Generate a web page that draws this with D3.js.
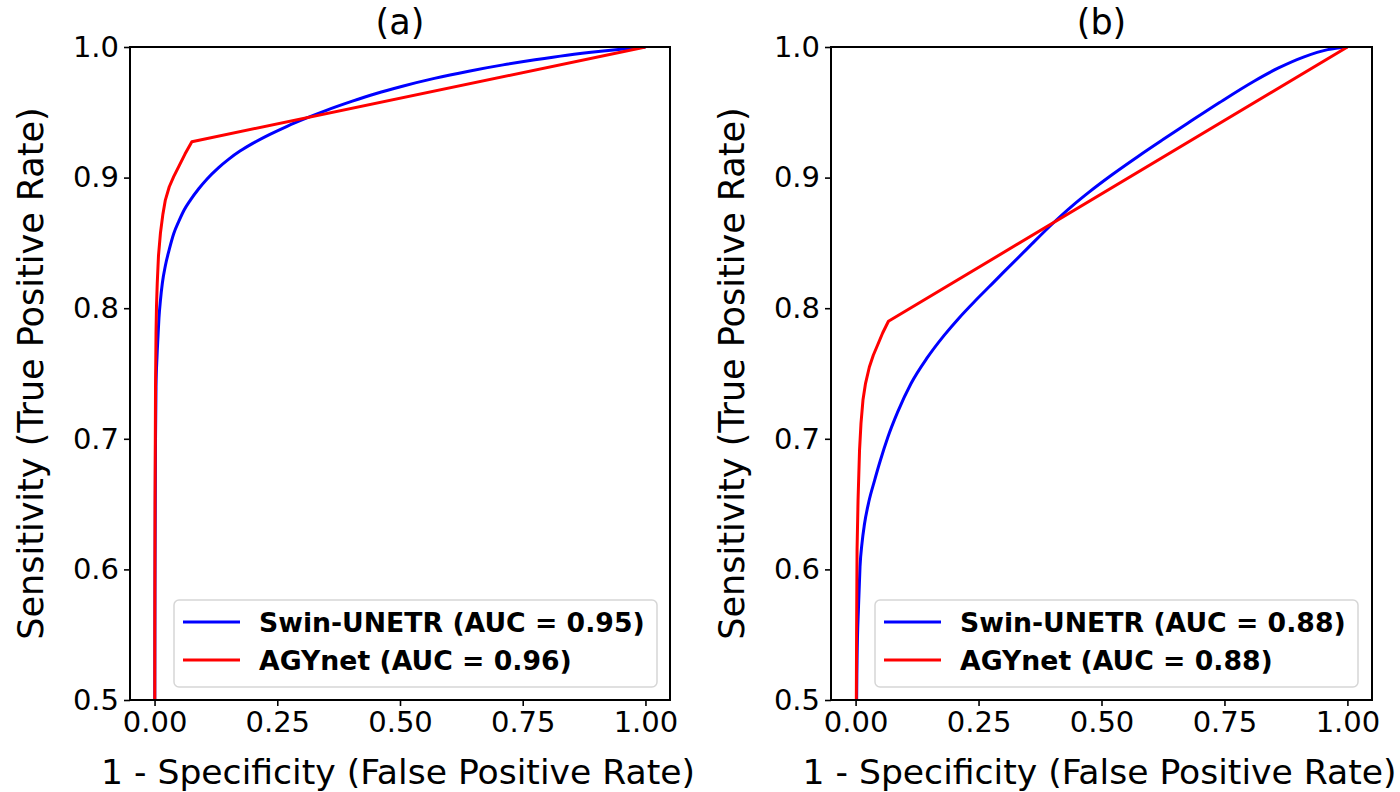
<!DOCTYPE html>
<html>
<head>
<meta charset="utf-8">
<script src="https://cdn.jsdelivr.net/npm/d3@7"></script>
<style>
  body { margin: 0; background: #fff; }
  text { font-family: "DejaVu Sans", sans-serif; fill: #000; }
</style>
</head>
<body>
<svg id="chart" width="1400" height="792"></svg>
<script>
// panel (a)
const fprSwinA = [0, 0.0005, 0.001, 0.002, 0.003, 0.005, 0.007, 0.009, 0.012, 0.016, 0.022, 0.03, 0.039, 0.05, 0.06, 0.073, 0.09, 0.107, 0.13, 0.15, 0.174, 0.2, 0.235, 0.27, 0.309, 0.35, 0.403, 0.45, 0.505, 0.57, 0.64, 0.71, 0.775, 0.84, 0.909, 0.96, 1.0];
const tprSwinA = [0, 0.5, 0.6, 0.7, 0.74, 0.7625, 0.778, 0.7925, 0.806, 0.8195, 0.8325, 0.845, 0.857, 0.867, 0.875, 0.8828, 0.8915, 0.899, 0.9075, 0.9138, 0.9203, 0.9262, 0.9331, 0.9393, 0.9455, 0.9515, 0.9585, 0.9642, 0.970, 0.976, 0.9815, 0.9863, 0.9902, 0.9937, 0.9967, 0.9986, 1.0];
const fprAgyA = [0, 0.0005, 0.001, 0.002, 0.003, 0.004, 0.0055, 0.008, 0.012, 0.017, 0.022, 0.03, 0.039, 0.05, 0.062, 0.076, 1.0];
const tprAgyA = [0, 0.55, 0.65, 0.74, 0.781, 0.802, 0.819, 0.84, 0.8575, 0.872, 0.8828, 0.893, 0.9007, 0.909, 0.918, 0.9275, 1.0];

// panel (b)
const fprSwinB = [0, 0.001, 0.003, 0.006, 0.009, 0.013, 0.018, 0.027, 0.0385, 0.05, 0.0654, 0.085, 0.113, 0.145, 0.18, 0.21, 0.241, 0.271, 0.3, 0.35, 0.403, 0.44, 0.474, 0.52, 0.575, 0.625, 0.676, 0.74, 0.811, 0.86, 0.912, 0.96, 1.0];
const tprSwinB = [0, 0.45, 0.53, 0.572, 0.602, 0.62, 0.6345, 0.652, 0.668, 0.683, 0.701, 0.72, 0.7425, 0.7617, 0.7792, 0.7924, 0.8048, 0.8162, 0.8272, 0.846, 0.8656, 0.8782, 0.8887, 0.9018, 0.9164, 0.9291, 0.9418, 0.9575, 0.974, 0.984, 0.9925, 0.998, 1.0];
const fprAgyB = [0, 0.001, 0.0015, 0.002, 0.003, 0.005, 0.008, 0.011, 0.015, 0.02, 0.028, 0.036, 0.045, 0.055, 0.0668, 1.0];
const tprAgyB = [0, 0.45, 0.5, 0.55, 0.615, 0.653, 0.691, 0.712, 0.7297, 0.742, 0.755, 0.764, 0.772, 0.781, 0.790, 1.0];

const panelTitles = ["(a)", "(b)"];
const seriesNames = ["Swin-UNETR", "AGYnet"];
const aucA = [0.95, 0.96];
const aucB = [0.88, 0.88];
const xTicks = [0, 0.25, 0.5, 0.75, 1.0];
const yTicks = [0.5, 0.6, 0.7, 0.8, 0.9, 1.0];
const xLabel = "1 - Specificity (False Positive Rate)";
const yLabel = "Sensitivity (True Positive Rate)";

const colors = ["#0000ff", "#ff0000"];
// swin curve is smooth, AGYnet has a sharp knee so keep it linear
const curves = [d3.curveMonotoneX, d3.curveLinear];

const zip = (xs, ys) => xs.map((x, i) => ({ x, y: ys[i] }));

const panels = [
  { title: panelTitles[0], left: 130, right: 670, auc: aucA,
    series: [zip(fprSwinA, tprSwinA), zip(fprAgyA, tprAgyA)] },
  { title: panelTitles[1], left: 831, right: 1372, auc: aucB,
    series: [zip(fprSwinB, tprSwinB), zip(fprAgyB, tprAgyB)] }
];

const plotTop = 47, plotBottom = 700;
const svg = d3.select("#chart");

panels.forEach((p, pi) => {
  const x = d3.scaleLinear().domain([-0.05, 1.05]).range([p.left, p.right]);
  const y = d3.scaleLinear().domain([0.5, 1.0]).range([plotBottom, plotTop]);
  const g = svg.append("g");

  g.append("clipPath").attr("id", "clip" + pi)
    .append("rect")
    .attr("x", p.left).attr("y", plotTop)
    .attr("width", p.right - p.left).attr("height", plotBottom - plotTop);

  g.append("g").attr("clip-path", `url(#clip${pi})`)
    .selectAll("path")
    .data(p.series)
    .enter()
    .append("path")
    .attr("d", (d, i) => d3.line().curve(curves[i]).x(v => x(v.x)).y(v => y(v.y))(d))
    .attr("fill", "none")
    .attr("stroke", (d, i) => colors[i])
    .attr("stroke-width", 3)
    .attr("stroke-linejoin", "round");

  // axes
  const xAxis = g.append("g")
    .attr("transform", `translate(0,${plotBottom})`)
    .call(d3.axisBottom(x).tickValues(xTicks).tickFormat(d3.format(".2f")).tickSize(6).tickPadding(5));
  const yAxis = g.append("g")
    .attr("transform", `translate(${p.left},0)`)
    .call(d3.axisLeft(y).tickValues(yTicks).tickFormat(d3.format(".1f")).tickSize(6).tickPadding(5));
  [xAxis, yAxis].forEach(a => {
    a.select(".domain").remove();
    a.selectAll("line").attr("stroke", "#000").attr("stroke-width", 1.6);
    a.selectAll("text").style("font-size", "29px").style("font-family", "DejaVu Sans").attr("fill", "#000");
  });

  g.append("rect")
    .attr("x", p.left).attr("y", plotTop)
    .attr("width", p.right - p.left).attr("height", plotBottom - plotTop)
    .attr("fill", "none").attr("stroke", "#000").attr("stroke-width", 2);

  // labels
  const cx = (p.left + p.right) / 2;
  g.append("text").attr("x", cx).attr("y", 34)
    .attr("text-anchor", "middle").style("font-size", "35px").text(p.title);
  g.append("text").attr("x", cx - 2).attr("y", 784)
    .attr("text-anchor", "middle").style("font-size", "34.6px").text(xLabel);
  g.append("text")
    .attr("transform", `translate(${p.left - 87},${(plotTop + plotBottom) / 2}) rotate(-90)`)
    .attr("text-anchor", "middle").style("font-size", "35px").text(yLabel);

  // legend
  const lg = g.append("g").attr("transform", `translate(${p.left + 44},600)`);
  lg.append("rect")
    .attr("width", 483).attr("height", 87).attr("rx", 5)
    .attr("fill", "#fff").attr("fill-opacity", 0.8)
    .attr("stroke", "#d6d6d6").attr("stroke-width", 1.5);
  const items = lg.selectAll(".legend-item")
    .data(seriesNames)
    .enter()
    .append("g")
    .attr("class", "legend-item")
    .attr("transform", (d, i) => `translate(0,${22 + i * 38})`);
  items.append("line")
    .attr("x1", 9).attr("x2", 66)
    .attr("stroke", (d, i) => colors[i]).attr("stroke-width", 3);
  items.append("text")
    .attr("x", 85).attr("dy", "0.36em")
    .style("font-size", "26.7px").style("font-weight", "bold")
    .text((d, i) => `${d} (AUC = ${p.auc[i].toFixed(2)})`);
});
</script>
</body>
</html>
